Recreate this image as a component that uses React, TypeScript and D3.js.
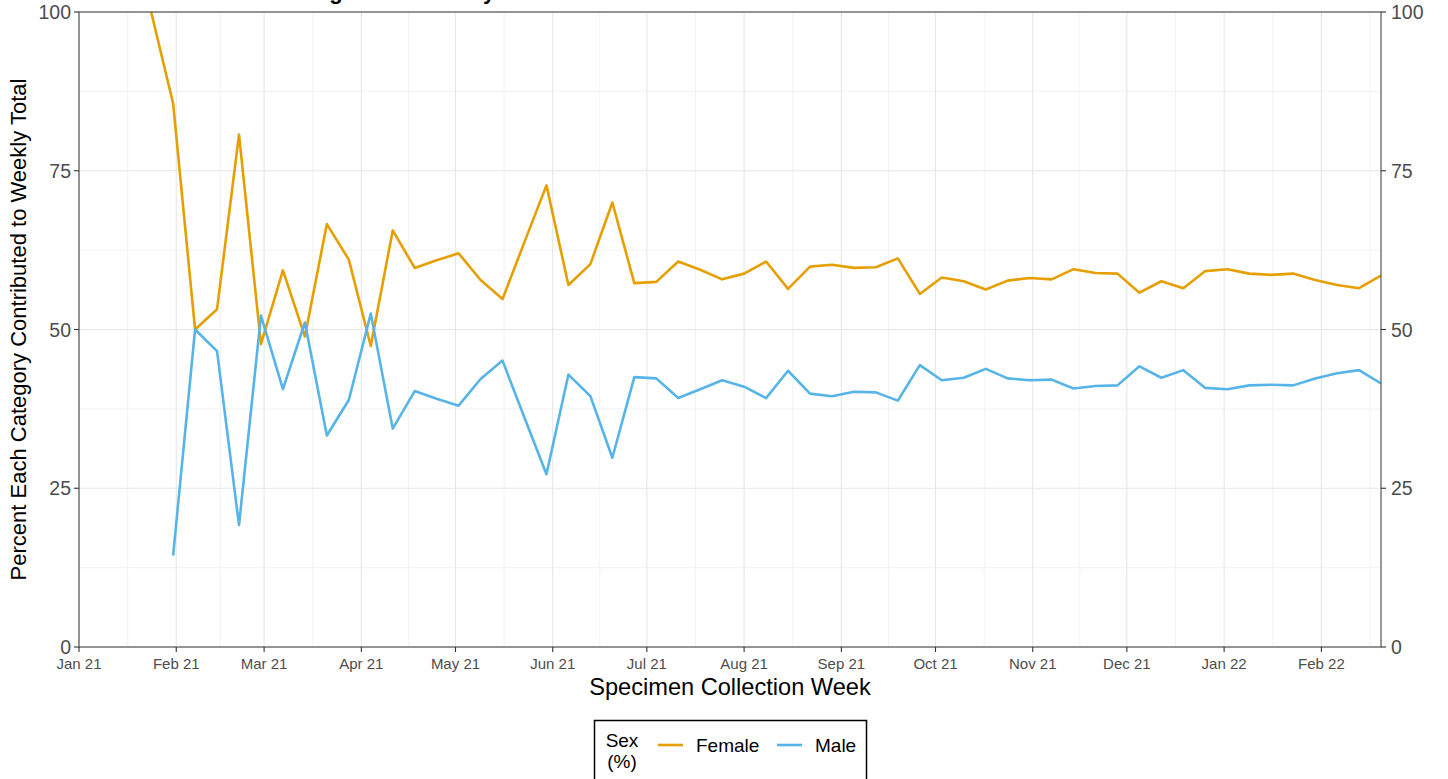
import React from "react";
import * as d3 from "d3";

const weekStarts: string[] = [
  "2021-01-24","2021-01-31","2021-02-07","2021-02-14","2021-02-21","2021-02-28",
  "2021-03-07","2021-03-14","2021-03-21","2021-03-28","2021-04-04","2021-04-11",
  "2021-04-18","2021-04-25","2021-05-02","2021-05-09","2021-05-16","2021-05-23",
  "2021-05-30","2021-06-06","2021-06-13","2021-06-20","2021-06-27","2021-07-04",
  "2021-07-11","2021-07-18","2021-07-25","2021-08-01","2021-08-08","2021-08-15",
  "2021-08-22","2021-08-29","2021-09-05","2021-09-12","2021-09-19","2021-09-26",
  "2021-10-03","2021-10-10","2021-10-17","2021-10-24","2021-10-31","2021-11-07",
  "2021-11-14","2021-11-21","2021-11-28","2021-12-05","2021-12-12","2021-12-19",
  "2021-12-26","2022-01-02","2022-01-09","2022-01-16","2022-01-23","2022-01-30",
  "2022-02-06","2022-02-13","2022-02-20"
];

const female: number[] = [
  100, 85.6, 50, 53.2, 80.7, 47.7, 59.3, 48.9, 66.6, 61.0, 47.4, 65.6,
  59.7, 60.9, 62.0, 57.8, 54.8, 63.8, 72.7, 57.0, 60.3, 70.0, 57.3, 57.5,
  60.7, 59.4, 57.9, 58.8, 60.7, 56.4, 59.9, 60.2, 59.7, 59.8, 61.2, 55.6,
  58.2, 57.6, 56.3, 57.7, 58.1, 57.9, 59.5, 58.9, 58.8, 55.8, 57.6, 56.5,
  59.2, 59.5, 58.8, 58.6, 58.8, 57.8, 57.0, 56.5, 58.5
];

const male: (number | null)[] = [
  null, 14.4, 50, 46.6, 19.2, 52.2, 40.6, 51.1, 33.3, 38.9, 52.5, 34.4,
  40.3, 39.1, 38.0, 42.2, 45.1, 36.1, 27.2, 42.9, 39.5, 29.8, 42.5, 42.3,
  39.2, 40.6, 42.0, 41.0, 39.2, 43.5, 39.9, 39.5, 40.2, 40.1, 38.8, 44.4,
  42.0, 42.4, 43.8, 42.3, 42.0, 42.1, 40.7, 41.1, 41.2, 44.2, 42.4, 43.6,
  40.8, 40.6, 41.2, 41.3, 41.2, 42.3, 43.1, 43.6, 41.5
];

const yTicks: number[] = [0, 25, 50, 75, 100];
const yMinor: number[] = [12.5, 37.5, 62.5, 87.5];
const xDomain: string[] = ["2021-01-01", "2022-02-20"];
const seriesNames: string[] = ["Female", "Male"];
const seriesColors: string[] = ["#E69F00", "#56B4E9"];
const titleText = "COVID-19 Variant Testing Cases Weekly";

const W = 1448;
const H = 779;
const M = { left: 79, right: 1381, top: 12, bottom: 647 };
const FONT = "'Liberation Sans', Arial, Helvetica, sans-serif";

const parse = d3.timeParse("%Y-%m-%d");

export default function App() {
  const dates = weekStarts.map((s) => parse(s) as Date);
  const x = d3
    .scaleTime()
    .domain(xDomain.map((s) => parse(s) as Date))
    .range([M.left, M.right]);
  const y = d3.scaleLinear().domain([0, 100]).range([M.bottom, M.top]);

  const majorX = d3.timeMonth.range(x.domain()[0], d3.timeDay.offset(x.domain()[1], 1));
  const minorX: Date[] = [];
  for (let i = 0; i < majorX.length; i++) {
    const a = majorX[i];
    const b = i + 1 < majorX.length ? majorX[i + 1] : null;
    if (b) minorX.push(new Date((a.getTime() + b.getTime()) / 2));
    else if (i > 0) {
      const prev = majorX[i - 1];
      const m = new Date(a.getTime() + (a.getTime() - prev.getTime()) / 2);
      if (m <= x.domain()[1]) minorX.push(m);
    }
  }
  const fmt = d3.timeFormat("%b %y");

  const line = d3
    .line<[Date, number | null]>()
    .defined((d) => d[1] !== null)
    .x((d) => x(d[0]))
    .y((d) => y(d[1] as number));

  const fPath = line(dates.map((d, i) => [d, female[i]]));
  const mPath = line(dates.map((d, i) => [d, male[i]]));

  return (
    <svg
      width={W}
      height={H}
      style={{ position: "absolute", left: 0, top: 0, background: "#fff" }}
      fontFamily={FONT}
    >
      <defs>
        <clipPath id="panel">
          <rect x={M.left} y={M.top - 2} width={M.right - M.left} height={M.bottom - M.top + 2} />
        </clipPath>
      </defs>
      <rect x={0} y={0} width={W} height={H} fill="#fff" />
      <text x={M.left} y={-1} fontSize={22} fontWeight="bold" fill="#000">
        {titleText}
      </text>

      {/* grid */}
      {yMinor.map((v) => (
        <line key={"ym" + v} x1={M.left} x2={M.right} y1={y(v)} y2={y(v)} stroke="#f0f0f0" strokeWidth={0.9} />
      ))}
      {minorX.map((d, i) => (
        <line key={"xm" + i} x1={x(d)} x2={x(d)} y1={M.top} y2={M.bottom} stroke="#f0f0f0" strokeWidth={0.9} />
      ))}
      {yTicks.map((v) => (
        <line key={"yg" + v} x1={M.left} x2={M.right} y1={y(v)} y2={y(v)} stroke="#e6e6e6" strokeWidth={1.1} />
      ))}
      {majorX.map((d, i) => (
        <line key={"xg" + i} x1={x(d)} x2={x(d)} y1={M.top} y2={M.bottom} stroke="#e6e6e6" strokeWidth={1.1} />
      ))}

      {/* lines */}
      <g clipPath="url(#panel)" fill="none" strokeWidth={2.6} strokeLinejoin="round">
        <path d={fPath || ""} stroke={seriesColors[0]} />
        <path d={mPath || ""} stroke={seriesColors[1]} />
      </g>

      {/* border */}
      <rect
        x={M.left}
        y={M.top}
        width={M.right - M.left}
        height={M.bottom - M.top}
        fill="none"
        stroke="#555"
        strokeWidth={1.2}
      />

      {/* y ticks left and right */}
      {yTicks.map((v) => (
        <g key={"yt" + v}>
          <line x1={M.left - 5} x2={M.left} y1={y(v)} y2={y(v)} stroke="#333" strokeWidth={1.1} />
          <text x={M.left - 8} y={y(v)} dy="0.36em" textAnchor="end" fontSize={19.5} fill="#4d4d4d">
            {v}
          </text>
          <line x1={M.right} x2={M.right + 5} y1={y(v)} y2={y(v)} stroke="#333" strokeWidth={1.1} />
          <text x={M.right + 10} y={y(v)} dy="0.36em" textAnchor="start" fontSize={19.5} fill="#4d4d4d">
            {v}
          </text>
        </g>
      ))}

      {/* x ticks */}
      {majorX.map((d, i) => (
        <g key={"xt" + i}>
          <line x1={x(d)} x2={x(d)} y1={M.bottom} y2={M.bottom + 5} stroke="#333" strokeWidth={1.1} />
          <text x={x(d)} y={M.bottom + 22} textAnchor="middle" fontSize={15} fill="#4d4d4d">
            {fmt(d)}
          </text>
        </g>
      ))}

      {/* axis titles */}
      <text x={(M.left + M.right) / 2} y={695} textAnchor="middle" fontSize={23.6} fill="#000">
        Specimen Collection Week
      </text>
      <text
        transform={`translate(26, ${(M.top + M.bottom) / 2}) rotate(-90)`}
        textAnchor="middle"
        fontSize={22}
        fill="#000"
      >
        Percent Each Category Contributed to Weekly Total
      </text>

      {/* legend */}
      <rect x={594.5} y={720.5} width={272} height={70} fill="#fff" stroke="#000" strokeWidth={1.5} />
      <text x={622} y={747} textAnchor="middle" fontSize={19} fill="#000">Sex</text>
      <text x={622} y={768} textAnchor="middle" fontSize={19} fill="#000">(%)</text>
      {seriesNames.map((n, i) => {
        const kx = i === 0 ? 658 : 777;
        return (
          <g key={n}>
            <line x1={kx} x2={kx + 25} y1={745} y2={745} stroke={seriesColors[i]} strokeWidth={2.6} />
            <text x={kx + 38} y={752} fontSize={19} fill="#000">{n}</text>
          </g>
        );
      })}
    </svg>
  );
}
